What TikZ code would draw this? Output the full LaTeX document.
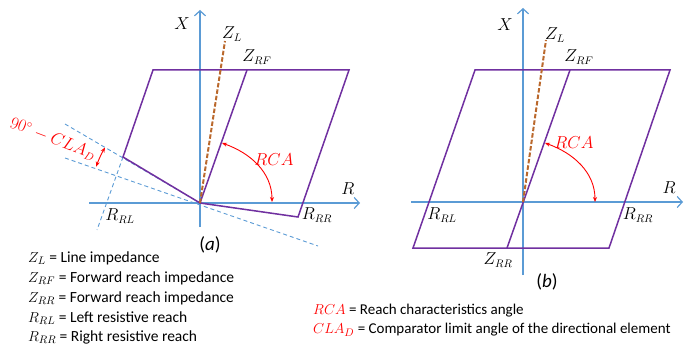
\documentclass[tikz,border=0pt]{standalone}
\usepackage{fontspec}
\setmainfont{Carlito}
\usetikzlibrary{arrows.meta}
\definecolor{axisblue}{RGB}{91,155,213}
\definecolor{zonepurple}{RGB}{112,48,160}
\definecolor{linebrown}{RGB}{186,104,44}
\definecolor{anglered}{RGB}{255,0,0}
\tikzset{
  axisline/.style={axisblue,line width=1.2pt,-{Straight Barb[length=5pt,width=11pt]}},
  zoneline/.style={zonepurple,line width=1.5pt,line cap=round},
  zlline/.style={linebrown,line width=2pt,dash pattern=on 4.5pt off 2pt},
  guideline/.style={axisblue,line width=0.9pt,dash pattern=on 4pt off 3pt},
  anglearrow/.style={anglered,line width=0.9pt,{Stealth[length=5pt,width=4pt]}-{Stealth[length=5pt,width=4pt]}},
  lbl/.style={inner sep=0pt,font=\fontsize{16}{18}\selectfont},
  redlbl/.style={lbl,text=anglered},
  caplbl/.style={inner sep=0pt,font=\fontsize{19}{21}\selectfont},
  legend/.style={anchor=west,inner sep=0pt,font=\fontsize{15.5}{18}\selectfont},
  legendr/.style={anchor=west,inner sep=0pt,font=\fontsize{15}{18}\selectfont},
}
\begin{document}
\begin{tikzpicture}[x=1pt,y=-1pt]
\useasboundingbox (0,0) rectangle (700,347);
% ---------- panel (a) ----------
\coordinate (Oa) at (200,203);
\coordinate (Xabot) at (200,227);
\coordinate (Xatop) at (200,10);
\coordinate (Raleft) at (89,203);
\coordinate (Raright) at (360,203);
\coordinate (ZLa) at (225,41);
\coordinate (ZRFa) at (247,70);
\coordinate (TLa) at (153,70);
\coordinate (TRa) at (349,70);
\coordinate (BRa) at (298,217);
\coordinate (CLa) at (123,157);
\coordinate (D1a) at (65,124);
\coordinate (D2a) at (65,158);
\coordinate (D2b) at (318,246);
\coordinate (D3a) at (97,230);
\coordinate (RCA1a) at (222,143);
\coordinate (RCA2a) at (272,202);

\draw[guideline] (D1a) -- (Oa);
\draw[guideline] (D2a) -- (D2b);
\draw[guideline] (CLa) -- (D3a);
\draw[axisline] (Xabot) -- (Xatop);
\draw[axisline] (Raleft) -- (Raright);
\draw[zoneline] (Oa) -- (CLa) -- (TLa) -- (TRa) -- (BRa) -- cycle;
\draw[zoneline] (Oa) -- (ZRFa);
\draw[zlline] (Oa) -- (ZLa);
\draw[anglearrow] (RCA1a) .. controls (250,153) and (272,172) .. (RCA2a);
\draw[anglearrow] ([shift={(210.3:110)}]Oa) arc[start angle=210.3,end angle=199.3,radius=110];

\node[lbl] (Xa) at (182,24) {$X$};
\node[lbl] (ZLla) at (232,34) {$Z_L$};
\node[lbl] (ZRFla) at (257,57) {$Z_{RF}$};
\node[lbl] (Rla) at (348,189) {$R$};
\node[lbl] (RRLa) at (120,216) {$R_{RL}$};
\node[lbl] (RRRa) at (317,215) {$R_{RR}$};
\node[redlbl] (RCAla) at (274,160) {$RCA$};
\node[redlbl,rotate=-21] (CLAla) at (53,139) {$90^{\circ}-CLA_D$};
\node[caplbl] (capa) at (210,245) {(\textit{a})};

% ---------- panel (b) ----------
\coordinate (Ob) at (523,202);
\coordinate (Xbbot) at (523,275);
\coordinate (Xbtop) at (523,8);
\coordinate (Rbleft) at (411,202);
\coordinate (Rbright) at (683,202);
\coordinate (ZLb) at (546,40);
\coordinate (TLb) at (475,70);
\coordinate (TRb) at (670,70);
\coordinate (BRb) at (609,248);
\coordinate (BLb) at (413,248);
\coordinate (ZRFb) at (570,70);
\coordinate (ZRRb) at (507,248);
\coordinate (RCA1b) at (545,143);
\coordinate (RCA2b) at (595,202);

\draw[axisline] (Xbbot) -- (Xbtop);
\draw[axisline] (Rbleft) -- (Rbright);
\draw[zoneline] (TLb) -- (TRb) -- (BRb) -- (BLb) -- cycle;
\draw[zoneline] (ZRRb) -- (ZRFb);
\draw[zlline] (Ob) -- (ZLb);
\draw[anglearrow] (RCA1b) .. controls (573,153) and (595,172) .. (RCA2b);

\node[lbl] (Xb) at (505,25) {$X$};
\node[lbl] (ZLlb) at (555,35) {$Z_L$};
\node[lbl] (ZRFlb) at (579,57) {$Z_{RF}$};
\node[lbl] (Rlb) at (669,188) {$R$};
\node[lbl] (RRLb) at (442,215) {$R_{RL}$};
\node[lbl] (RRRb) at (638,215) {$R_{RR}$};
\node[lbl] (ZRRlb) at (498,260) {$Z_{RR}$};
\node[redlbl] (RCAlb) at (574,143) {$RCA$};
\node[caplbl] (capb) at (547,282) {(\textit{b})};

% ---------- legends ----------
\node[legend] (L1) at (28,258) {$Z_L$ = Line impedance};
\node[legend] (L2) at (28,278) {$Z_{RF}$ = Forward reach impedance};
\node[legend] (L3) at (28,298) {$Z_{RR}$ = Forward reach impedance};
\node[legend] (L4) at (28,318) {$R_{RL}$ = Left resistive reach};
\node[legend] (L5) at (28,337) {$R_{RR}$ = Right resistive reach};
\node[legendr] (L6) at (313,311) {\textcolor{anglered}{$RCA$} = Reach characteristics angle};
\node[legendr] (L7) at (313,330) {\textcolor{anglered}{$CLA_D$} = Comparator limit angle of the directional element};
\end{tikzpicture}
\end{document}
